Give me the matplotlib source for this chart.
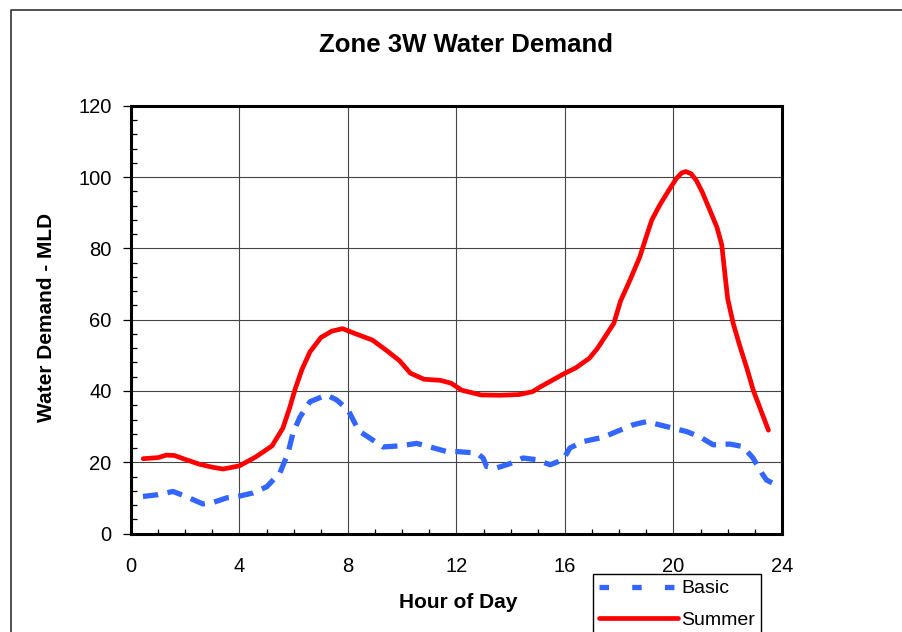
import matplotlib
matplotlib.use("Agg")
import matplotlib.pyplot as plt
from matplotlib.lines import Line2D
from matplotlib.ticker import MultipleLocator

plt.rcParams['font.family'] = ['Liberation Sans', 'DejaVu Sans']

# ---- data ----
summer_hours = [0.45, 1.0, 1.3, 1.6, 2.0, 2.5, 3.0, 3.4, 4.0, 4.6, 5.2, 5.6, 5.85, 6.05,
                6.3, 6.6, 7.0, 7.4, 7.8, 8.3, 8.9, 9.4, 9.9, 10.3, 10.8, 11.4, 11.8, 12.2,
                12.9, 13.6, 14.3, 14.8, 15.1, 16.0, 16.4, 16.9, 17.2, 17.5, 17.8, 18.05,
                18.4, 18.76, 19.0, 19.2, 19.5, 19.8, 20.1, 20.3, 20.45, 20.65, 20.85,
                21.05, 21.3, 21.6, 21.78, 21.9, 22.0, 22.2, 22.45, 22.7, 22.95, 23.5]
summer = [21.0, 21.3, 22.0, 21.9, 20.8, 19.5, 18.6, 18.1, 19.0, 21.5, 24.6, 29.6, 35.3,
          40.5, 46.0, 51.0, 55.0, 56.8, 57.5, 56.0, 54.3, 51.5, 48.5, 45.0, 43.3, 43.0,
          42.2, 40.2, 38.9, 38.8, 39.0, 39.8, 41.2, 45.0, 46.5, 49.2, 52.0, 55.5, 59.0,
          65.3, 71.2, 77.7, 83.4, 88.0, 92.3, 96.0, 99.6, 101.2, 101.6, 101.0, 99.0,
          96.0, 91.5, 86.0, 81.0, 72.5, 65.8, 59.0, 52.5, 46.5, 40.0, 29.0]

basic_hours = [0.44, 1.0, 1.55, 2.05, 2.65, 3.02, 3.53, 4.0, 4.5, 5.0, 5.49, 5.79, 5.97,
               6.23, 6.6, 7.21, 7.58, 8.0, 8.4, 8.92, 9.29, 9.92, 10.53, 11.02, 11.64,
               12.0, 12.74, 12.98, 13.11, 13.48, 13.97, 14.45, 14.96, 15.45, 15.93,
               16.18, 16.66, 17.4, 17.9, 18.5, 19.0, 19.75, 20.49, 20.98, 21.46, 22.08,
               22.56, 22.93, 23.25, 23.43, 23.8]
basic = [10.4, 10.9, 11.8, 10.3, 8.3, 8.7, 10.0, 10.5, 11.4, 13.1, 17.0, 22.6, 28.2,
         32.7, 37.0, 38.9, 37.5, 34.7, 28.8, 26.2, 24.3, 24.6, 25.3, 24.3, 23.0, 23.0,
         22.6, 21.2, 18.8, 18.4, 19.6, 21.2, 20.7, 19.3, 20.7, 24.0, 25.8, 27.0, 28.6,
         30.5, 31.4, 30.0, 28.6, 27.1, 24.9, 25.1, 24.4, 21.2, 17.0, 15.0, 13.6]

x_ticks = [0, 4, 8, 12, 16, 20, 24]
y_ticks = [0, 20, 40, 60, 80, 100, 120]

W, H = 903, 632
fig = plt.figure(figsize=(W / 100, H / 100), dpi=100)
fig.patch.set_facecolor('white')

L, R, B, T = 131, 782, 533.5, 106
ax = fig.add_axes([L / W, 1 - B / H, (R - L) / W, (B - T) / H])

blue = '#3366FF'
red = '#FF0000'
ax.plot(basic_hours, basic, color=blue, lw=3.8, dashes=(2.9, 1.8), zorder=3)
ax.plot(summer_hours, summer, color=red, lw=3.4, solid_capstyle='round',
        solid_joinstyle='round', zorder=4)

ax.set_xlim(0, 24)
ax.set_ylim(0, 120)
ax.set_xticks(x_ticks)
ax.set_yticks(y_ticks)
ax.set_xticklabels([str(v) for v in x_ticks])
ax.set_yticklabels([str(v) for v in y_ticks])
ax.xaxis.set_minor_locator(MultipleLocator(1))
ax.yaxis.set_minor_locator(MultipleLocator(4))
ax.grid(True, which='major', color='#444444', lw=0.8, zorder=1)

ax.tick_params(axis='x', which='major', length=0, pad=17, labelsize=14.5)
ax.tick_params(axis='x', which='minor', direction='in', length=3.6, width=0.9)
ax.tick_params(axis='y', which='major', direction='out', length=6, width=0.9,
               pad=8, labelsize=14.5)
ax.tick_params(axis='y', which='minor', direction='in', length=4.2, width=0.9)

for s in ax.spines.values():
    s.set_linewidth(2.2)
    s.set_color('black')

fig.text(466 / W, 1 - 45 / H, 'Zone 3W Water Demand', ha='center', va='center',
         fontsize=18.5, fontweight='bold')
fig.text(458 / W, 1 - 603 / H, 'Hour of Day', ha='center', va='center',
         fontsize=15, fontweight='bold')
fig.text(47 / W, 1 - 317 / H, 'Water Demand - MLD', ha='center', va='center',
         rotation=90, fontsize=15, fontweight='bold')

# outer frame (top and left edges visible)
fig.add_artist(Line2D([11 / W, 11 / W, 1.0], [0.0, 1 - 10 / H, 1 - 10 / H],
                      transform=fig.transFigure, color='#333333', lw=1.2))

handles = [Line2D([], [], color=blue, lw=3.8, dashes=(1.8, 4.4)),
           Line2D([], [], color=red, lw=3.4, solid_capstyle='round')]
leg = fig.legend(handles, ['Basic', 'Summer'], loc='upper left',
                 bbox_to_anchor=(593 / W, 1 - 574 / H), borderaxespad=0,
                 fontsize=14, frameon=True, fancybox=False, framealpha=1,
                 edgecolor='black', handlelength=4.05, handletextpad=0.2,
                 borderpad=0.3, labelspacing=0.72)
leg.get_frame().set_linewidth(1.0)

fig.savefig('out.png', dpi=100)
